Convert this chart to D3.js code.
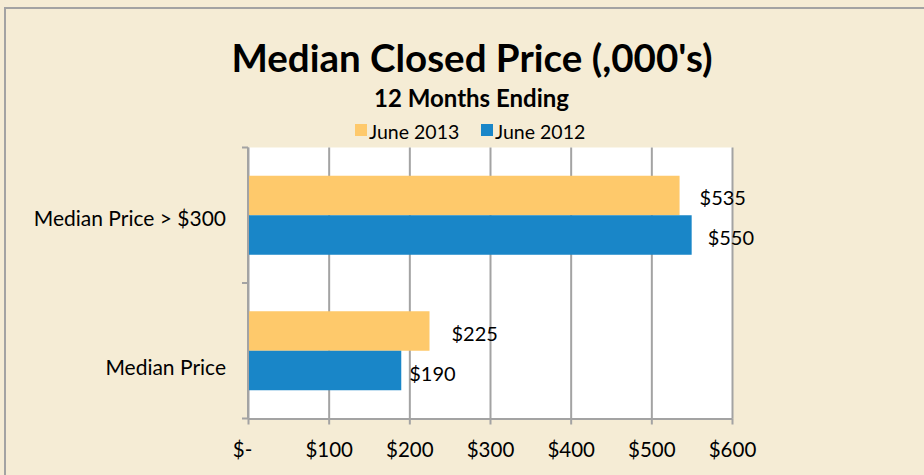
<!DOCTYPE html>
<html>
<head>
<meta charset="utf-8">
<script src="https://cdn.jsdelivr.net/npm/d3@7"></script>
<style>
  html, body { margin: 0; padding: 0; background: #f5ecd5; }
  text { font-family: "Lato", "Open Sans", sans-serif; fill: #000; }
</style>
</head>
<body>
<div id="chart"></div>
<script>
// Chart data
const categories = ["Median Price > $300", "Median Price"];
const seriesNames = ["June 2013", "June 2012"];
const june2013 = [535, 225];
const june2012 = [550, 190];
const xTicks = [0, 100, 200, 300, 400, 500, 600];

const colors = { "June 2013": "#fec96b", "June 2012": "#1986c8" };

const W = 924, H = 475;
const plot = { left: 248, right: 732, top: 147.5, bottom: 418.5 };

const svg = d3.select("#chart").append("svg")
  .attr("width", W)
  .attr("height", H);

// background + outer border
svg.append("rect").attr("width", W).attr("height", H).attr("fill", "#f5ecd5");
svg.append("rect")
  .attr("x", 5).attr("y", 8)
  .attr("width", W + 20).attr("height", H + 20)
  .attr("fill", "none")
  .attr("stroke", "#a3a3a3")
  .attr("stroke-width", 2);

// Titles
svg.append("text")
  .attr("x", 472).attr("y", 72)
  .attr("text-anchor", "middle")
  .style("font-size", "38.5px")
  .style("font-weight", "bold")
  .text("Median Closed Price (,000's)");

svg.append("text")
  .attr("x", 471.5).attr("y", 106.5)
  .attr("text-anchor", "middle")
  .style("font-size", "24px")
  .style("font-weight", "bold")
  .text("12 Months Ending");

// Legend
const legendX = [355, 481];
seriesNames.forEach((s, i) => {
  svg.append("rect")
    .attr("x", legendX[i]).attr("y", 124)
    .attr("width", 12).attr("height", 12)
    .attr("fill", colors[s]);
  svg.append("text")
    .attr("x", legendX[i] + 14).attr("y", 139)
    .style("font-size", "19.5px")
    .text(s);
});

// Scales
const x = d3.scaleLinear().domain([0, 600]).range([plot.left, plot.right]);
const y = d3.scaleBand().domain(categories).range([plot.top, plot.bottom]).padding(0);
const ySub = d3.scaleBand().domain(seriesNames).range([0, y.bandwidth()])
  .paddingInner(0).paddingOuter(0.715);

// Plot background
svg.append("rect")
  .attr("x", plot.left).attr("y", plot.top)
  .attr("width", plot.right - plot.left)
  .attr("height", plot.bottom - plot.top)
  .attr("fill", "#fff");

// Gridlines
svg.append("g")
  .attr("transform", `translate(0,${plot.bottom})`)
  .call(d3.axisBottom(x).tickValues(xTicks).tickSize(-(plot.bottom - plot.top)).tickFormat(""))
  .call((g) => g.select(".domain").remove())
  .selectAll("line")
  .attr("stroke", "#a3a3a3")
  .attr("stroke-width", 2);

// Bars
const rows = categories.map((c, i) => ({ cat: c, values: [
  { s: "June 2013", v: june2013[i] },
  { s: "June 2012", v: june2012[i] }
] }));

const groups = svg.selectAll(".grp")
  .data(rows)
  .enter()
  .append("g")
  .attr("class", "grp")
  .attr("transform", (d) => `translate(0,${y(d.cat)})`);

groups.selectAll("rect")
  .data((d) => d.values)
  .enter()
  .append("rect")
  .attr("x", x(0))
  .attr("y", (d) => ySub(d.s))
  .attr("width", (d) => x(d.v) - x(0))
  .attr("height", ySub.bandwidth())
  .attr("fill", (d) => colors[d.s]);

// Data labels (nudged like the original)
const labelNudge = { "Median Price > $300": [20, 16], "Median Price": [22, 8] };
groups.each(function (row) {
  d3.select(this).selectAll(".lbl")
    .data(row.values)
    .enter()
    .append("text")
    .attr("class", "lbl")
    .attr("x", (d, i) => x(d.v) + labelNudge[row.cat][i])
    .attr("y", (d) => ySub(d.s) + ySub.bandwidth() / 2 + 10)
    .style("font-size", "20px")
    .text((d) => "$" + d.v);
});

// Bottom axis
const xAxis = svg.append("g")
  .attr("transform", `translate(0,${plot.bottom})`)
  .call(d3.axisBottom(x).tickValues(xTicks).tickSize(6).tickSizeOuter(0)
    .tickFormat((d) => (d === 0 ? "$-" : "$" + d)));
xAxis.select(".domain").attr("stroke", "#a3a3a3").attr("stroke-width", 2);
xAxis.selectAll("line").attr("stroke", "#a3a3a3").attr("stroke-width", 2);
xAxis.selectAll("text")
  .attr("y", 38.5)
  .attr("dy", null)
  .style("font-size", "20.5px")
  .attr("dx", (d) => (d === 0 ? -6 : 0));

// Left axis: line with ticks between categories
const leftAxis = svg.append("g");
leftAxis.append("line")
  .attr("x1", plot.left).attr("x2", plot.left)
  .attr("y1", plot.top).attr("y2", plot.bottom)
  .attr("stroke", "#a3a3a3").attr("stroke-width", 2);
const bounds = [plot.top].concat(categories.map((c) => y(c) + y.bandwidth()));
leftAxis.selectAll(".tk")
  .data(bounds)
  .enter()
  .append("line")
  .attr("x1", plot.left - 6).attr("x2", plot.left)
  .attr("y1", (d) => d).attr("y2", (d) => d)
  .attr("stroke", "#a3a3a3").attr("stroke-width", 2);

// category labels sit slightly off-centre in the original
const catNudge = [10.5, 24.5];
leftAxis.selectAll(".cat")
  .data(categories)
  .enter()
  .append("text")
  .attr("x", 226)
  .attr("y", (d, i) => y(d) + y.bandwidth() / 2 + catNudge[i])
  .attr("text-anchor", "end")
  .style("font-size", "21px")
  .text((d) => d);
</script>
</body>
</html>
